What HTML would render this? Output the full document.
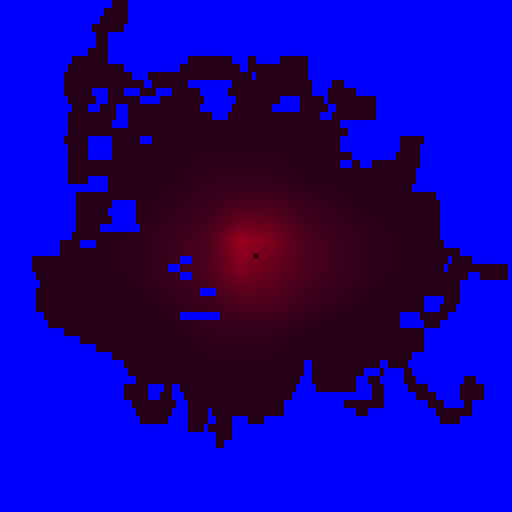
<!DOCTYPE html>
<html><head><meta charset="utf-8"><style>
html,body{margin:0;padding:0;background:#0000ff;}
svg{display:block}
</style></head><body>
<svg id="chart" width="512" height="512" viewBox="0 0 512 512" xmlns="http://www.w3.org/2000/svg">
<rect x="0" y="0" width="512" height="512" fill="#0000ff"/>
<g id="cells"></g>
</svg>
<script>
// occupied runs per 8px row band, in grid columns (128 columns x 4px)
const rowRuns = [
"28-32","26-32","25-32","23-31","24-27","24-27","22-27",
"18-27 47-58 62-64 70-77","17-31 45-60 62-77","16-33 37-63 64-77",
"16-36 38-47 58-64 64-78 83-86","16-23 27-31 35-39 43-50 57-78 82-89",
"17-24 27-35 40-51 59-70 75-81 82-94","18-22 25-29 32-50 58-68 75-82 84-94",
"17-29 32-53 57-80 83-94","17-28 32-85","17-87","16-22 28-35 38-85 100-106",
"17-22 28-85 100-105","17-22 28-88 99-105","17-28 28-85 88-90 93-105",
"17-104","17-22 27-104","27-103","19-109","19-28 34-110","19-27 34-110",
"19-28 34-110","19-25 35-110","18-110","15-20 24-111","15-115",
"8-45 48-64 64-112 113-118","8-42 45-64 64-111 112-127","9-45 48-64 64-117 120-127",
"10-115","9-50 54-64 64-115","9-64 64-106 111-115","9-64 64-106 110-114",
"11-45 55-64 64-100 105-112","12-64 64-100 106-110","16-64 64-106",
"20-64 64-106","24-64 64-106","28-64 64-103","31-64 64-76 78-95 97-102",
"32-64 64-76 78-91 95-96 101-103","34-64 64-75 78-89 92-95 101-104 116-119",
"31-37 41-43 45-64 64-74 79-89 93-96 102-107 115-121",
"31-37 40-43 46-64 64-73 93-96 104-109 115-121",
"33-44 47-64 64-71 86-96 107-111 116-118",
"34-43 47-52 53-64 64-71 89-92 109-118","35-42 47-52 54-58 62-66 110-115",
"47-51 52-58","54-58","54-56"
];
// coarse visit-intensity levels (16x16 blocks of 32px), 0 = few visits, 9 = most
const intensity = [
"0000000000000000",
"0000000000000000",
"0000000000000000",
"0000001111000000",
"0000011111100000",
"0000112221100000",
"0000123443211000",
"0001234764321000",
"0001234654321000",
"0000123443210000",
"0000012221000000",
"0000001110000000",
"0000000000000000",
"0000000000000000",
"0000000000000000",
"0000000000000000"
];
const centerCell = [64, 64];

const CELL = 4, BAND = 8, BLOCK = 32;
const xScale = c => c * CELL;
const yScale = r => r * CELL;
function level(px, py) {
  const gx = Math.min(15, Math.max(0, (px - BLOCK/2) / BLOCK));
  const gy = Math.min(15, Math.max(0, (py - BLOCK/2) / BLOCK));
  const x0 = Math.floor(gx), y0 = Math.floor(gy);
  const x1 = Math.min(15, x0 + 1), y1 = Math.min(15, y0 + 1);
  const fx = gx - x0, fy = gy - y0;
  const v = (r, c) => +intensity[r][c];
  return v(y0,x0)*(1-fx)*(1-fy) + v(y0,x1)*fx*(1-fy) + v(y1,x0)*(1-fx)*fy + v(y1,x1)*fx*fy;
}
function colorFor(L) {
  const t = Math.min(1, L / 9);
  const r = Math.round(36 + 219 * t * t);
  const b = Math.round(12 + 8 * t);
  return `rgb(${r},0,${b})`;
}
const g = document.getElementById('cells');
const NS = 'http://www.w3.org/2000/svg';
rowRuns.forEach((s, band) => {
  const rowsPerBand = BAND / CELL;
  s.split(' ').forEach(run => {
    const [a, b] = run.split('-').map(Number);
    for (let k = 0; k < rowsPerBand; k++) {
      const r = band * rowsPerBand + k;
      for (let c = a; c < b; c++) {
        const rect = document.createElementNS(NS, 'rect');
        
        
        rect.setAttribute('x', xScale(c));
        rect.setAttribute('y', yScale(r));
        rect.setAttribute('width', CELL);
        rect.setAttribute('height', CELL);
        rect.setAttribute('fill', colorFor(level(xScale(c) + 2, yScale(r) + 2)));
        rect.setAttribute('stroke', 'rgba(60,0,120,0.35)');
        rect.setAttribute('stroke-width', '0.5');
        g.appendChild(rect);
      }
    }
  });
});
const start = document.createElementNS(NS, 'rect');


start.setAttribute('x', xScale(centerCell[0]) - 2);
start.setAttribute('y', yScale(centerCell[1]) - 2);
start.setAttribute('width', CELL);
start.setAttribute('height', CELL);
start.setAttribute('fill', '#200000');
g.appendChild(start);
</script>
</body></html>
